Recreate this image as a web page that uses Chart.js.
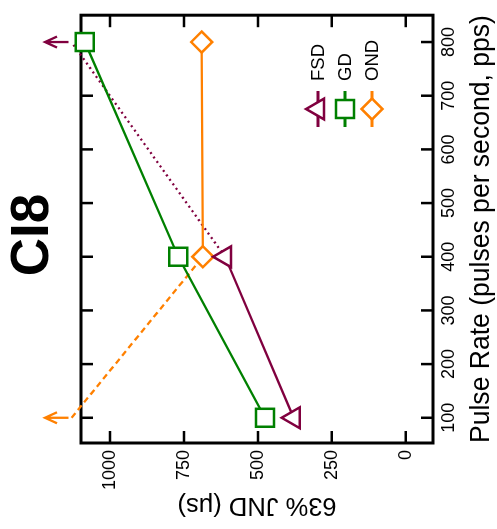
<!DOCTYPE html>
<html>
<head>
<meta charset="utf-8">
<script src="https://cdn.jsdelivr.net/npm/chart.js@4.4.1/dist/chart.umd.min.js"></script>
<style>
  html, body { margin: 0; padding: 0; background: #fff; overflow: hidden; }
  /* the chart is drawn upright and then turned a quarter turn to the left */
  #wrap { position: absolute; left: 0; top: 0; width: 529px; height: 497px;
          transform-origin: 0 0; transform: translateY(529px) rotate(-90deg); }
</style>
</head>
<body>
<div id="wrap"><canvas id="myChart" width="529" height="497"></canvas></div>
<script>
const pulseRates = [100, 400, 800];
const fsdJnd = [379, 611, null];
const gdJnd = [476, 769, 1085];
const ondJnd = [null, 686, 690];
// points past the top of the JND axis: drawn as a broken line ending in an arrow
const fsdOffscale = [null, 611, 1130];
const ondOffscale = [1130, 686, null];
const arrowJnd = [1140, 1220];

const pulseTicks = [100, 200, 300, 400, 500, 600, 700, 800];
const jndTicks = [0, 250, 500, 750, 1000];

const FONT = '"Liberation Sans", Arial, sans-serif';
const maroon = '#80003f';
const green = '#008000';
const orange = '#ff8000';

function pts(vals) {
  return pulseRates.map((p, i) => ({x: p, y: vals[i]})).filter(d => d.y !== null);
}

const frame = {
  id: 'frame',
  beforeDatasetsDraw(chart) {
    const {ctx, chartArea: a, scales: {x, y}} = chart;
    const tl = 12;
    ctx.save();
    ctx.strokeStyle = '#000';
    ctx.lineWidth = 2.5;
    ctx.beginPath();
    x.ticks.forEach(t => {
      const px = x.getPixelForValue(t.value);
      ctx.moveTo(px, a.bottom); ctx.lineTo(px, a.bottom - tl);
      ctx.moveTo(px, a.top); ctx.lineTo(px, a.top + tl);
    });
    y.ticks.forEach(t => {
      const py = y.getPixelForValue(t.value);
      ctx.moveTo(a.left, py); ctx.lineTo(a.left + tl, py);
      ctx.moveTo(a.right, py); ctx.lineTo(a.right - tl, py);
    });
    ctx.stroke();
    ctx.lineWidth = 3;
    ctx.strokeRect(a.left, a.top, a.right - a.left, a.bottom - a.top);
    // panel title
    ctx.fillStyle = '#000';
    ctx.font = 'bold 53px ' + FONT;
    ctx.textAlign = 'center';
    ctx.textBaseline = 'middle';
    ctx.fillText('CI8', (a.left + a.right) / 2 - 6, 33);
    ctx.restore();
  },
  afterDatasetsDraw(chart) {
    const {ctx, scales: {x, y}} = chart;
    ctx.save();
    chart.data.datasets.forEach(ds => {
      if (ds.arrowAt === undefined) return;
      const px = x.getPixelForValue(ds.arrowAt);
      const y0 = y.getPixelForValue(arrowJnd[0]);
      const y1 = y.getPixelForValue(arrowJnd[1]);
      ctx.strokeStyle = ds.borderColor;
      ctx.lineWidth = 2.3;
      ctx.beginPath();
      ctx.moveTo(px, y0); ctx.lineTo(px, y1);
      ctx.moveTo(px - 5.5, y1 + 12); ctx.lineTo(px, y1); ctx.lineTo(px + 5.5, y1 + 12);
      ctx.stroke();
    });
    ctx.restore();
  },
  afterDraw(chart) {
    const {ctx} = chart;
    const items = chart.data.datasets.filter(ds => ds.legendLabel);
    ctx.save();
    ctx.font = '18.5px ' + FONT;
    ctx.textBaseline = 'middle';
    ctx.textAlign = 'left';
    items.forEach((ds, i) => {
      const rowY = 318 + i * 27;
      ctx.strokeStyle = ds.borderColor;
      ctx.lineWidth = 3;
      ctx.beginPath();
      ctx.moveTo(402, rowY); ctx.lineTo(438, rowY);
      ctx.stroke();
      ctx.fillStyle = '#fff';
      ctx.lineWidth = 2.5;
      Chart.helpers.drawPoint(ctx, {pointStyle: ds.pointStyle, radius: ds.pointRadius, rotation: 0, borderWidth: 2.5}, 420, rowY);
      ctx.fillStyle = '#000';
      ctx.fillText(ds.legendLabel, 448, rowY + 1);
    });
    ctx.restore();
  }
};

const common = {showLine: true, clip: false, borderWidth: 2.3, pointBorderWidth: 2.5, pointBackgroundColor: '#fff'};

const ctx = document.getElementById('myChart').getContext('2d');
const myChart = new Chart(ctx, {
  type: 'scatter',
  data: {
    datasets: [
      {...common, legendLabel: 'FSD', data: pts(fsdJnd), borderColor: maroon, pointBorderColor: maroon,
        pointStyle: 'triangle', pointRadius: 12},
      {...common, legendLabel: 'GD', data: pts(gdJnd), borderColor: green, pointBorderColor: green,
        pointStyle: 'rect', pointRadius: 12.7},
      {...common, legendLabel: 'OND', data: pts(ondJnd), borderColor: orange, pointBorderColor: orange,
        pointStyle: 'rectRot', pointRadius: 10.5},
      {...common, data: pts(fsdOffscale), borderColor: maroon, borderDash: [2, 3.5], pointRadius: 0,
        arrowAt: 800},
      {...common, data: pts(ondOffscale), borderColor: orange, borderDash: [6, 4], pointRadius: 0,
        arrowAt: 100}
    ]
  },
  options: {
    responsive: false,
    animation: false,
    layout: {padding: {top: 81, right: 13, bottom: 0, left: 0}},
    plugins: {legend: {display: false}, tooltip: {enabled: false}},
    scales: {
      x: {
        type: 'linear', position: 'bottom', min: 53, max: 850,
        afterBuildTicks: s => { s.ticks = pulseTicks.map(v => ({value: v})); },
        afterFit: s => { s.height = 64; },
        grid: {display: false, drawTicks: false},
        border: {display: false},
        ticks: {color: '#000', padding: 5, maxRotation: 0, font: {family: FONT, size: 18},
          callback: v => String(v)},
        title: {display: true, text: 'Pulse Rate (pulses per second, pps)', color: '#000',
          font: {family: FONT, size: 28.5}, padding: {top: 0, bottom: -1}}
      },
      y: {
        type: 'linear', position: 'left', min: -92, max: 1098,
        afterBuildTicks: s => { s.ticks = jndTicks.map(v => ({value: v})); },
        afterFit: s => { s.width = 86; },
        grid: {display: false, drawTicks: false},
        border: {display: false},
        ticks: {color: '#000', padding: 7, font: {family: FONT, size: 18},
          callback: v => String(v)},
        title: {display: true, text: '63% JND (μs)', color: '#000',
          font: {family: FONT, size: 25.5}, padding: {top: 9, bottom: 0}}
      }
    }
  },
  plugins: [frame]
});
</script>
</body>
</html>
